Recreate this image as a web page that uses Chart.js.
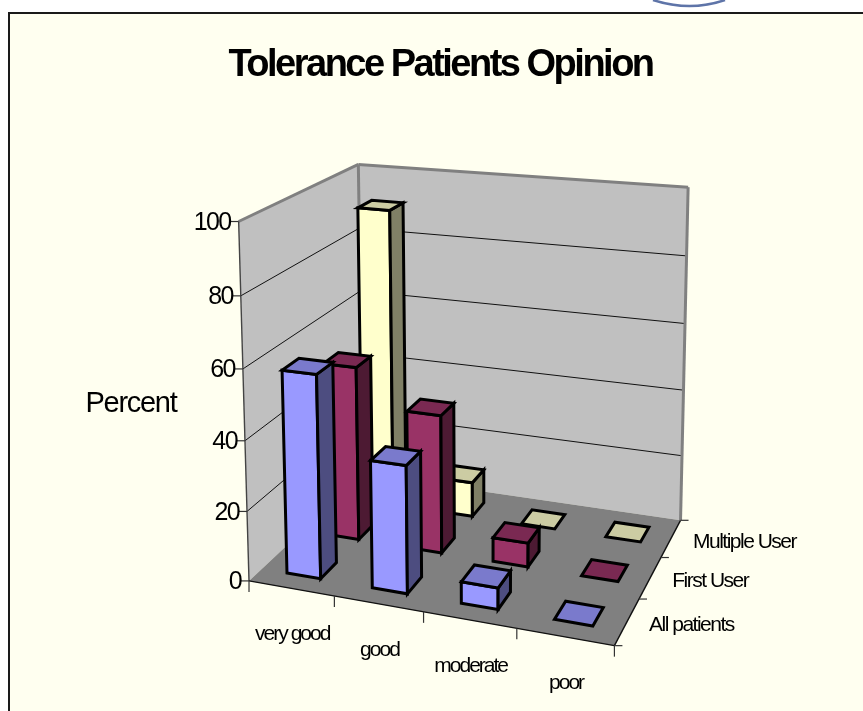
<!DOCTYPE html>
<html><head><meta charset="utf-8">
<style>html,body{margin:0;padding:0;background:#fff}canvas{display:block}</style>
<script src="https://cdn.jsdelivr.net/npm/chart.js@4"></script>
</head><body><canvas id="c" width="863" height="711"></canvas>
<script>
const titleText = 'Tolerance Patients Opinion';
const axisTitle = 'Percent';
const categories = ['very good', 'good', 'moderate', 'poor'];
const seriesNames = ['All patients', 'First User', 'Multiple User'];
const allPatients = [58, 36, 6, 0];
const firstUser = [51.5, 40.5, 7, 0];
const multipleUser = [91, 10.5, 0, 0];
const valueTicks = [0, 20, 40, 60, 80, 100];
const faceColors = [
  {front:'#9999FF', top:'#7A7ACC', side:'#4D4D80'},
  {front:'#993366', top:'#7A2952', side:'#4D1A33'},
  {front:'#FFFFCC', top:'#CCCCA3', side:'#808066'}
];
// Calibration of the 3D view box: unit-cube corner -> screen position
const viewBox = [
  [0,0,0,250,582],[1,0,0,614,645],[0,1,0,238,221],[0,0,1,362,473],
  [1,0,1,681,521],[0,1,1,359,165],[1,1,1,688,187]
];
function solveProjection(pts){
  const n=11, A=Array.from({length:n},()=>new Array(n+1).fill(0));
  const add=(r,b)=>{for(let i=0;i<n;i++){for(let j=0;j<n;j++)A[i][j]+=r[i]*r[j];A[i][n]+=r[i]*b;}};
  for(const [x,y,z,X,Y] of pts){
    add([x,y,z,1,0,0,0,0,-X*x,-X*y,-X*z],X);
    add([0,0,0,0,x,y,z,1,-Y*x,-Y*y,-Y*z],Y);
  }
  for(let i=0;i<n;i++){ A[i][i]+=1e-9;
    let m=i;for(let k=i+1;k<n;k++)if(Math.abs(A[k][i])>Math.abs(A[m][i]))m=k;
    [A[i],A[m]]=[A[m],A[i]];
    for(let k=0;k<n;k++){if(k===i)continue;const f=A[k][i]/A[i][i];for(let j=i;j<=n;j++)A[k][j]-=f*A[i][j];}
  }
  return A.map((r,i)=>r[n]/r[i]);
}
const P=solveProjection(viewBox);
const proj=(x,y,z)=>{const w=P[8]*x+P[9]*y+P[10]*z+1;
  return [(P[0]*x+P[1]*y+P[2]*z+P[3])/w,(P[4]*x+P[5]*y+P[6]*z+P[7])/w];};

function poly(ctx,pts,fill,stroke,lw){
  ctx.beginPath();pts.forEach((p,i)=>i?ctx.lineTo(p[0],p[1]):ctx.moveTo(p[0],p[1]));ctx.closePath();
  if(fill){ctx.fillStyle=fill;ctx.fill();}
  if(stroke){ctx.strokeStyle=stroke;ctx.lineWidth=lw;ctx.lineJoin='miter';ctx.stroke();}
}
function seg(ctx,a,b,col,lw){ctx.beginPath();ctx.moveTo(a[0],a[1]);ctx.lineTo(b[0],b[1]);ctx.strokeStyle=col;ctx.lineWidth=lw;ctx.stroke();}
function label(ctx,t,x,y,font,sp,align){ctx.font=font;ctx.letterSpacing=sp;ctx.fillStyle='#000';ctx.textAlign=align;ctx.textBaseline='middle';ctx.fillText(t,x,y);}

const view3d={
  id:'view3d',
  beforeDraw(chart){
    const c=chart.ctx;
    c.save();
    c.fillStyle='#FFFFFF';c.fillRect(0,0,863,711);
    // letterhead crest remnant
    c.beginPath();c.moveTo(653,0);c.quadraticCurveTo(690,12,725,0);c.strokeStyle='#5E74A8';c.lineWidth=2.5;c.stroke();
    c.fillStyle='#FFFFF0';c.fillRect(8,12,855,699);
    c.fillStyle='#1a1a1a';c.fillRect(8,12,855,2);c.fillRect(8,12,2,699);
    c.restore();
    c.letterSpacing='-2.5px';
  },
  beforeDatasetsDraw(chart){
    const c=chart.ctx,sx=chart.scales.x,sy=chart.scales.y,sz=chart.scales.depth;
    const slotX=sx.getPixelForValue(1)-sx.getPixelForValue(0), slotZ=sz.getPixelForValue(1)-sz.getPixelForValue(0);
    const U=p=>(p-sx.left)/sx.width, W=p=>(p-sz.left)/sz.width;
    const V=v=>(sy.bottom-sy.getPixelForValue(v))/sy.height;
    c.save();
    c.lineCap='butt';
    // walls and floor
    poly(c,[proj(0,0,0),proj(0,1,0),proj(0,1,1),proj(0,0,1)],'#C0C0C0');
    poly(c,[proj(0,0,1),proj(0,1,1),proj(1,1,1),proj(1,0,1)],'#C0C0C0');
    poly(c,[proj(0,0,0),proj(1,0,0),proj(1,0,1),proj(0,0,1)],'#808080');
    // gridlines
    sy.ticks.forEach(t=>{const v=V(t.value);if(v<=0||v>=1)return;
      seg(c,proj(0,v,0),proj(0,v,1),'#111',1);seg(c,proj(0,v,1),proj(1,v,1),'#111',1);});
    // wall edges
    seg(c,proj(0,1,0),proj(0,1,1),'#808080',3);
    seg(c,proj(0,1,1),proj(1,1,1),'#808080',3);
    seg(c,proj(0,1,1),proj(0,0,1),'#808080',3);
    seg(c,proj(1,1,1),proj(1,0,1),'#808080',3);
    // axis lines
    seg(c,proj(0,0,0),proj(0,1,0),'#444',1.4);
    seg(c,proj(0,0,0),proj(1,0,0),'#111',1.4);
    seg(c,proj(1,0,0),proj(1,0,1),'#111',1.4);
    // value ticks and labels
    sy.ticks.forEach(t=>{const p=proj(0,V(t.value),0);
      seg(c,[p[0]-9,p[1]],p,'#333',1.2);
      label(c,t.label,p[0]-8,p[1]+1.5,'25px "Liberation Sans"','-1.6px','right');});
    // category ticks and labels
    categories.forEach((name,i)=>{const u=U(sx.getPixelForValue(i));
      const p=proj(u,0,0);
      label(c,name,p[0]+1,p[1]+46,'21px "Liberation Sans"','-2px','center');
      const e=proj(u+U(sx.left+slotX/2),0,0);
      seg(c,e,[e[0],e[1]+11],'#333',1.2);});
    const o=proj(0,0,0);seg(c,o,[o[0],o[1]+11],'#333',1.2);
    // series ticks and labels
    seriesNames.forEach((name,i)=>{const w=W(sz.getPixelForValue(i));
      const p=proj(1,0,w);
      label(c,name,p[0]+22,p[1]+4,'21px "Liberation Sans"','-1.5px','left');
    });
    for(let i=0;i<=seriesNames.length;i++){const p=proj(1,0,i/seriesNames.length);seg(c,p,[p[0]+8,p[1]],'#333',1.2);}
    label(c,axisTitle,131,404,'29px "Liberation Sans"','-1.3px','center');
    // bars, back row first
    const hx=0.2*slotX/sx.width, hz=0.2*slotZ/sz.width;
    for(let d=chart.data.datasets.length-1;d>=0;d--){
      const ds=chart.data.datasets[d],col=faceColors[d],w=W(sz.getPixelForValue(d));
      ds.data.forEach((val,i)=>{
        const u=U(sx.getPixelForValue(i)),h=V(val);
        const x0=u-hx,x1=u+hx,z0=w-hz,z1=w+hz;
        const lw=3;
        if(h>0){
          poly(c,[proj(x0,0,z0),proj(x1,0,z0),proj(x1,h,z0),proj(x0,h,z0)],col.front,'#000',lw);
          poly(c,[proj(x1,0,z0),proj(x1,0,z1),proj(x1,h,z1),proj(x1,h,z0)],col.side,'#000',lw);
        }
        poly(c,[proj(x0,h,z0),proj(x1,h,z0),proj(x1,h,z1),proj(x0,h,z1)],col.top,'#000',lw);
      });
    }
    c.restore();
    return false;
  }
};

new Chart(document.getElementById('c'),{
  type:'bar',
  data:{labels:categories,datasets:[
    {label:seriesNames[0],data:allPatients,backgroundColor:faceColors[0].front,xAxisID:'x',yAxisID:'y'},
    {label:seriesNames[1],data:firstUser,backgroundColor:faceColors[1].front,xAxisID:'x',yAxisID:'y'},
    {label:seriesNames[2],data:multipleUser,backgroundColor:faceColors[2].front,xAxisID:'x',yAxisID:'y'}
  ]},
  plugins:[view3d],
  options:{
    responsive:false,animation:false,devicePixelRatio:1,
    layout:{padding:{left:18,top:43,right:0,bottom:10}},
    plugins:{
      legend:{display:false},tooltip:{enabled:false},
      title:{display:true,text:titleText,color:'#000',align:'center',padding:{top:0,bottom:10},
        font:{family:'"Liberation Sans"',size:38,weight:'bold',lineHeight:1.2}}
    },
    scales:{
      x:{type:'category',offset:true,display:false},
      depth:{type:'category',axis:'x',position:'bottom',labels:seriesNames,offset:true,display:false},
      y:{type:'linear',min:0,max:100,display:false,afterBuildTicks(s){s.ticks=valueTicks.map(v=>({value:v}));},ticks:{stepSize:20}}
    }
  }
});
</script></body></html>
